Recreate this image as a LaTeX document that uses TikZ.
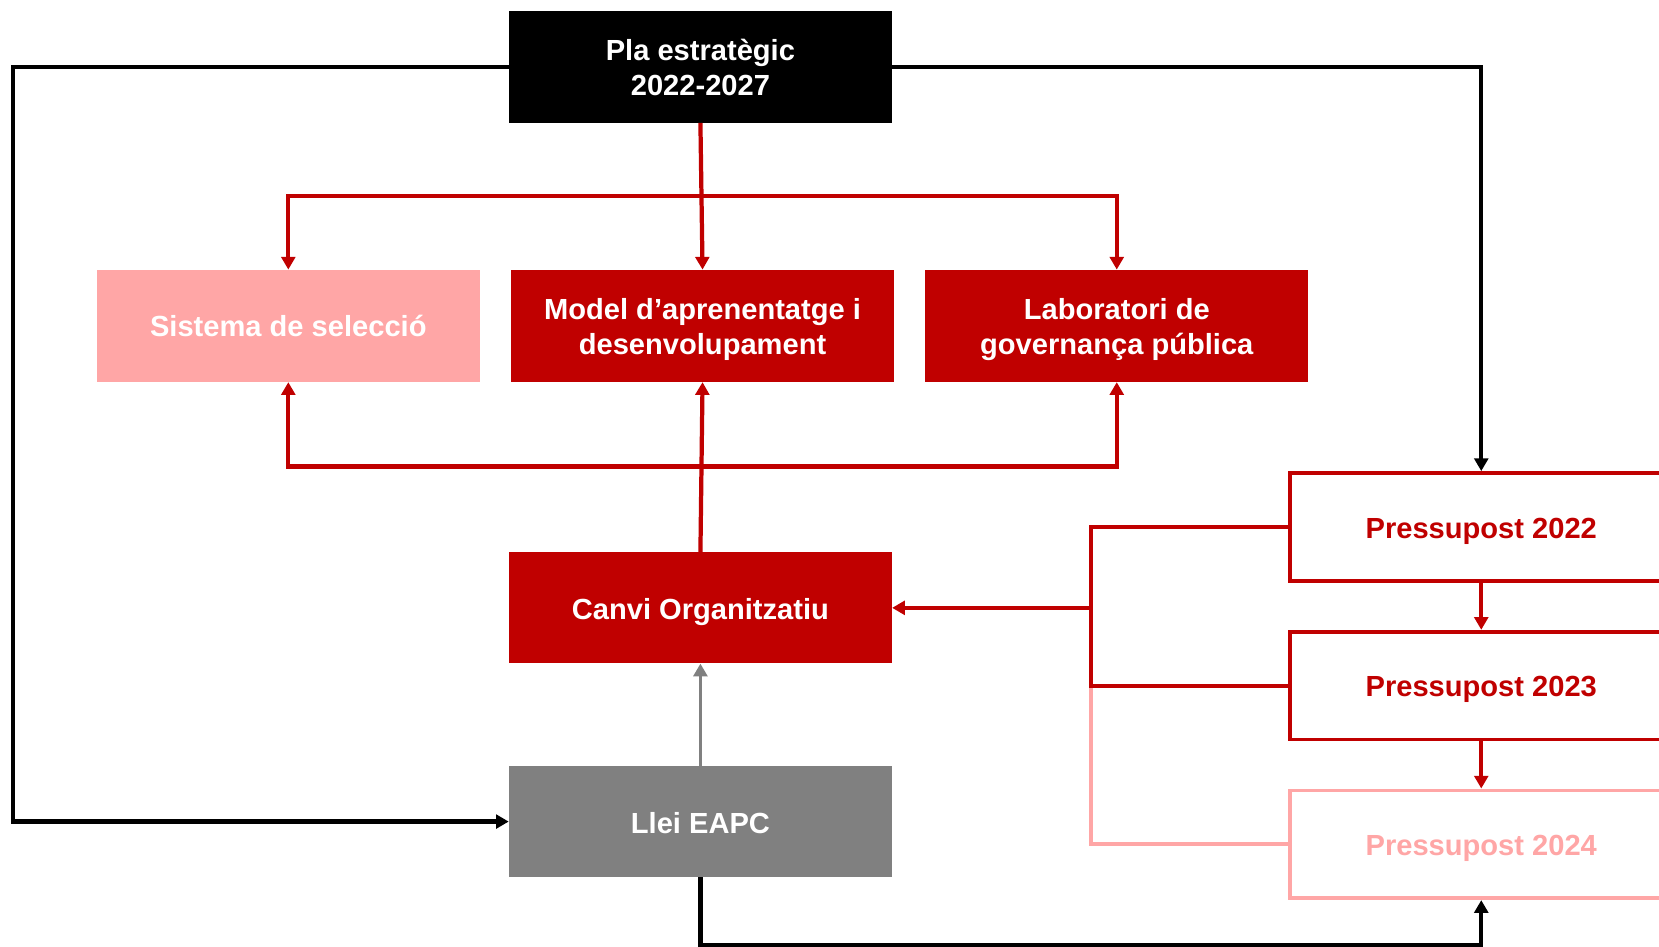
\documentclass[tikz,border=0pt]{standalone}
\usepackage{fontspec}
\setmainfont{Liberation Sans}
\usetikzlibrary{arrows.meta}
\definecolor{cred}{HTML}{C00000}
\definecolor{cpink}{HTML}{FFA6A6}
\definecolor{cgray}{HTML}{808080}
\begin{document}
\begin{tikzpicture}[x=1pt,y=-1pt,
  box/.style={minimum width=362pt,minimum height=106pt,inner sep=0pt},
  txt/.style={align=center,inner sep=0pt,yshift=-3.5pt,
    font=\fontsize{27.5}{33}\selectfont\bfseries,text=white},
  pbox/.style={box,minimum height=102pt,fill=white,line width=3.5pt},
  tip/.style={-{Triangle[length=12pt,width=13pt]}},
  dtip/.style={{Triangle[length=12pt,width=13pt]}-{Triangle[length=12pt,width=13pt]}},
  blackline/.style={draw=black,line width=4pt,line join=miter},
  redline/.style={draw=cred,line width=4pt,line join=miter},
  pinkline/.style={draw=cpink,line width=4pt,line join=miter},
  grayline/.style={draw=cgray,line width=3.5pt}]
\useasboundingbox (0,0) rectangle (1568,895);
\fill[white] (0,0) rectangle (1568,895);

% nodes
\node[box,fill=black,label={[txt,yshift=2.5pt]center:{Pla estratègic\\2022-2027}}] (pla) at (662,63) {};
\node[box,fill=cpink,label={[txt,yshift=3.5pt]center:{Sistema de selecció}}] (sis) at (272.5,308) {};
\node[box,fill=cred,label={[txt]center:{Model d’aprenentatge i\\desenvolupament}}] (model) at (664,308) {};
\node[box,fill=cred,label={[txt]center:{Laboratori de\\governança pública}}] (lab) at (1055.5,308) {};
\node[box,fill=cred,minimum height=105pt,label={[txt]center:{Canvi Organitzatiu}}] (canvi) at (662,574.5) {};
\node[box,fill=cgray,minimum height=105pt,label={[txt,yshift=2pt]center:{Llei EAPC}}] (llei) at (662,776.5) {};
\node[pbox,draw=cred,label={[txt,text=cred,yshift=-0.5pt]center:{Pressupost 2022}}] (p22) at (1400,498) {};
\node[pbox,draw=cred,label={[txt,text=cred,yshift=-0.5pt]center:{Pressupost 2023}}] (p23) at (1400,648) {};
\node[pbox,draw=cpink,label={[txt,text=cpink,yshift=-0.5pt]center:{Pressupost 2024}}] (p24) at (1400,798) {};

% helper coordinates
\coordinate (topbar) at (0,185);
\coordinate (lowbar) at (0,441);
\coordinate (leftx) at (12,0);
\coordinate (bot) at (0,893);
\coordinate (brx) at (1031,0);

% black connectors
\draw[blackline,tip] (pla.west) -- (pla.west -| leftx) -- (llei.west -| leftx) -- (llei.west);
\draw[blackline,tip] (pla.east) -| (p22.north);
\draw[blackline,tip] (llei.south) -- (llei.south |- bot) -- (p24.south |- bot) -- (p24.south);

% red connectors top
\draw[redline,dtip] (sis.north) -- (sis.north |- topbar) -- (lab.north |- topbar) -- (lab.north);
\draw[redline,tip] (pla.south) -- (model.north);

% red connectors bottom
\draw[redline,dtip] (sis.south) -- (sis.south |- lowbar) -- (lab.south |- lowbar) -- (lab.south);
\draw[redline,tip] (canvi.north) -- (model.south);

% gray
\draw[grayline,tip] (llei.north) -- (canvi.south);

% pressupost bracket
\draw[pinkline] (p23.west -| brx) -- (p24.west -| brx) -- (p24.west);
\draw[redline] (p22.west) -- (p22.west -| brx) -- (p23.west -| brx) -- (p23.west);
\draw[redline,tip] (canvi.east -| brx) -- (canvi.east);

% P arrows
\draw[redline,tip] (p22.south) -- (p23.north);
\draw[redline,tip] (p23.south) -- (p24.north);
\end{tikzpicture}
\end{document}
